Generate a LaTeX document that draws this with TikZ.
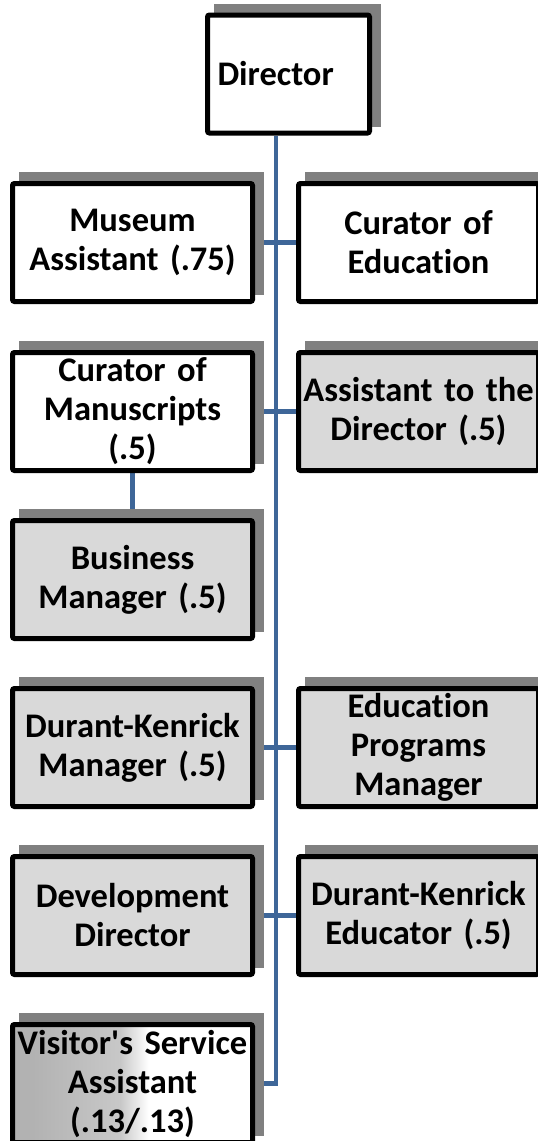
\documentclass[tikz,border=0pt]{standalone}
\usepackage{fontspec}
\setmainfont{Carlito}[RawFeature={-liga;-clig;-calt},WordSpace=0.8]
\usetikzlibrary{calc}
\definecolor{spine}{RGB}{62,102,152}
\definecolor{shd}{RGB}{128,128,128}
\definecolor{boxgray}{RGB}{217,217,217}
\definecolor{vsadark}{RGB}{178,178,178}
\definecolor{vsamid}{RGB}{200,200,200}
\newcommand{\orgboxfont}{\fontsize{34.5}{39}\selectfont\bfseries}
\pgfdeclarelayer{back}
\pgfdeclarelayer{shade}
\pgfsetlayers{back,shade,main}
\begin{document}
\begin{tikzpicture}[x=1pt,y=-1pt,
  orgbox/.style={draw=black, line width=5pt, rounded corners=2pt,
    minimum width=236pt, minimum height=118pt, text width=240pt,
    align=center, inner sep=0pt, font=\orgboxfont},
  whitebox/.style={orgbox, fill=white},
  graybox/.style={orgbox, fill=boxgray},
  fadebox/.style={orgbox, fill=white, path picture={
    \fill[vsadark] (path picture bounding box.north west) rectangle
      ([xshift=20pt]path picture bounding box.south west);
    \shade[left color=vsadark, right color=vsamid]
      ([xshift=20pt]path picture bounding box.north west) rectangle
      ([xshift=108pt]path picture bounding box.south west);
    \shade[left color=vsamid, right color=white]
      ([xshift=108pt]path picture bounding box.north west) rectangle
      ([xshift=136pt]path picture bounding box.south west);}},
  link/.style={draw=spine, line width=4.5pt},
  shadowbox/.style={fill=shd}]
\useasboundingbox (0,0) rectangle (538,1141);
\clip (0,0) rectangle (538,1141);
% nodes
\node[whitebox, minimum width=162pt, text width=162pt, align=left] (dir) at (288.5,74) {\hspace*{10pt}Director};
\node[whitebox] (ma) at (132.5,242.5) {Museum\\Assistant (.75)};
\node[whitebox] (ce) at (418.5,242.5) {Curator of\\Education};
\node[whitebox] (cm) at (132.5,411.5) {Curator of\\Manuscripts\\(.5)};
\node[graybox] (ad) at (418.5,411.5) {Assistant to the\\Director (.5)};
\node[graybox] (bm) at (132.5,579.5) {Business\\Manager (.5)};
\node[graybox] (dkm) at (132.5,747.5) {Durant-Kenrick\\Manager (.5)};
\node[graybox] (epm) at (418.5,747.5) {Education\\Programs\\Manager};
\node[graybox] (dd) at (132.5,915.5) {Development\\Director};
\node[graybox] (dke) at (418.5,915.5) {Durant-Kenrick\\Educator (.5)};
\node[fadebox] (vsa) at (132.5,1083.5) {Visitor\textquotesingle s Service\\Assistant\\(.13/.13)};
% shadows
\begin{pgfonlayer}{shade}
\foreach \n in {dir,ma,ce,cm,ad,bm,dkm,epm,dd,dke,vsa}
  \fill[shadowbox] ([xshift=9pt,yshift=9pt]\n.south west) rectangle ([xshift=9pt,yshift=9pt]\n.north east);
\end{pgfonlayer}
% connectors
\begin{pgfonlayer}{back}
\coordinate (sp) at (276,0);
\draw[link] (dir.south -| sp) |- (vsa.east);
\draw[link] (ma.east) -- (ce.west);
\draw[link] (cm.east) -- (ad.west);
\draw[link] (dkm.east) -- (epm.west);
\draw[link] (dd.east) -- (dke.west);
\draw[link] (cm.south) -- (bm.north);
\end{pgfonlayer}
\end{tikzpicture}
\end{document}
